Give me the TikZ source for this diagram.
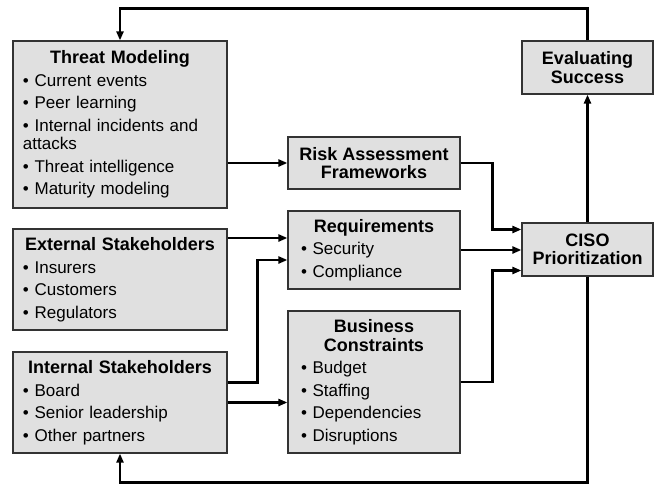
\documentclass[tikz,border=0pt]{standalone}
\usepackage{fontspec}
\setmainfont{Liberation Sans}
\usetikzlibrary{arrows.meta}
\setlength{\parindent}{0pt}
\definecolor{boxgray}{RGB}{224,224,224}
\definecolor{boxline}{RGB}{51,51,51}
\newcommand{\hd}[1]{\null\hfill{\fontsize{18}{18.5}\selectfont\bfseries #1}\hfill\null}
\newcommand{\itm}[1]{\textbullet\ #1}

\begin{document}
\begin{tikzpicture}[x=1pt, y=-1pt, box/.style={draw=boxline, line width=1.2pt, fill=boxgray, inner sep=0pt, font=\fontsize{17}{18.5}\selectfont},
widebox/.style={box, minimum width=214pt, text width=194pt, align=left}, midbox/.style={box, minimum width=172pt, text width=146pt, align=left},
titlebox/.style={box, align=center, font=\fontsize{18}{18.5}\selectfont\bfseries}, flow/.style={line width=2.4pt, -{Triangle[length=9pt,width=7pt]}}]
\useasboundingbox (0,0) rectangle (657,485);
\node[widebox, minimum height=167pt] (threat) at (120,124.5) {\hd{Threat Modeling}\\[4pt]\itm{Current events}\\[4pt]\itm{Peer learning}\\[4pt]\itm{Internal incidents and}\\attacks\\[4pt]\itm{Threat intelligence}\\[4pt]\itm{Maturity modeling}};
\node[widebox, minimum height=101pt] (external) at (120,279.5) {\hd{External Stakeholders}\\[4pt]\itm{Insurers}\\[4pt]\itm{Customers}\\[4pt]\itm{Regulators}};
\node[widebox, minimum height=101pt] (internal) at (120,402.5) {\hd{Internal Stakeholders}\\[4pt]\itm{Board}\\[4pt]\itm{Senior leadership}\\[4pt]\itm{Other partners}};
\node[titlebox, minimum width=172pt, minimum height=52pt] (risk) at (374,163) {Risk Assessment\\Frameworks};
\node[midbox, minimum height=142pt] (business) at (374,382) {\hd{\begin{tabular}[b]{@{}c@{}}Business\\Constraints\end{tabular}}\\[4pt]\itm{Budget}\\[4pt]\itm{Staffing}\\[4pt]\itm{Dependencies}\\[4pt]\itm{Disruptions}};
\node[midbox, minimum height=78pt] (req) at (374,250) {\hd{Requirements}\\[4pt]\itm{Security}\\[4pt]\itm{Compliance}};
\node[titlebox, minimum width=131pt, minimum height=53pt] (eval) at (587.5,67.5) {Evaluating\\Success};
\node[titlebox, minimum width=131pt, minimum height=53pt] (ciso) at (587.5,249.5) {CISO\\Prioritization};

\coordinate (reqtop) at ([yshift=12pt]req.west);
\coordinate (reqlow) at ([yshift=-10pt]req.west);
\coordinate (cisotop) at ([yshift=20pt]ciso.west);
\coordinate (cisolow) at ([yshift=-21pt]ciso.west);
\coordinate (intout) at ([yshift=20pt]internal.east);
\coordinate (topturn) at ([yshift=32pt]threat.north);
\coordinate (lowturn) at ([yshift=-29pt]internal.south);
\draw[flow] (threat.east |- risk.west) -- (risk.west);
\draw[flow] (external.east |- reqtop) -- (reqtop);
\draw[flow] (intout) -- ++(30,0) |- (reqlow);
\draw[flow] (internal.east) -- (internal.east -| business.west);
\draw[flow] (risk.east) -- ++(32,0) |- (cisotop);
\draw[flow] (req.east) -- (req.east -| ciso.west);
\draw[flow] (business.east) -- ++(32,0) |- (cisolow);
\draw[flow, line width=3.5pt] (ciso.north) -- (eval.south);
\draw[flow] (eval.north) |- (topturn) -- (threat.north);
\draw[flow] (ciso.south) |- (lowturn) -- (internal.south);
\end{tikzpicture}
\end{document}
